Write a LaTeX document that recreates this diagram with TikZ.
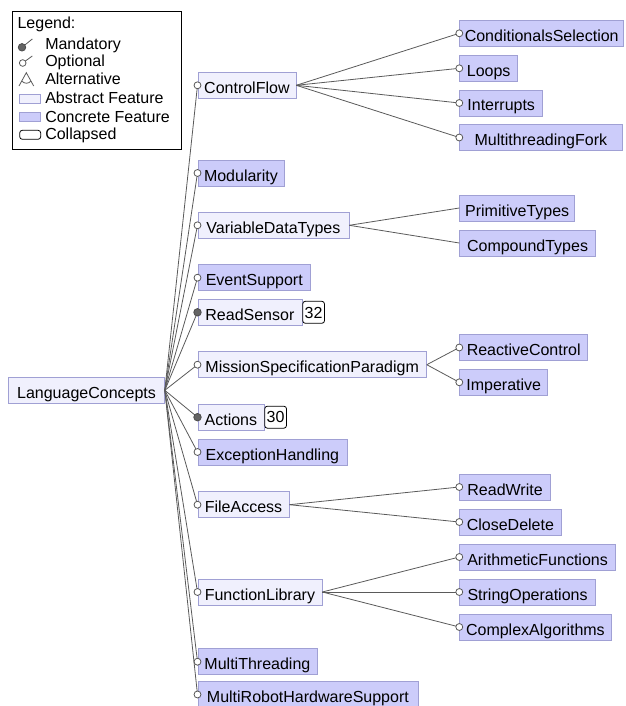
\documentclass[tikz,border=0pt]{standalone}
\usepackage{fontspec}
\setmainfont{Liberation Sans}
\usetikzlibrary{positioning}

\definecolor{absfill}{RGB}{240,240,253}
\definecolor{confill}{RGB}{204,204,250}
\definecolor{boxline}{RGB}{160,160,212}
\definecolor{linkgray}{RGB}{90,90,90}
\definecolor{mandgray}{RGB}{100,100,100}

\begin{document}
\begin{tikzpicture}[x=0.75pt,y=-0.75pt,font=\fontsize{12}{14}\selectfont,
        feat/.style={draw=boxline, line width=0.6pt, inner sep=0pt, minimum height=19.5pt,
            text height=12.5pt, text depth=0.5pt, anchor=west},
        abstr/.style={feat, fill=absfill},
        concr/.style={feat, fill=confill},
        badge/.style={draw=black, fill=white, line width=0.6pt, rounded corners=2pt,
            inner xsep=1.5pt, inner ysep=0pt, minimum height=16.5pt, text height=8.6pt, text depth=0pt},
        link/.style={draw=linkgray, line width=0.6pt},
        optdot/.style={draw=linkgray, fill=white, line width=0.6pt},
        manddot/.style={draw=black!70, fill=mandgray, line width=0.6pt}]
        \useasboundingbox (0,0) rectangle (625,706);

        % Feature macro:
        % #1 = node name
        % #2 = x of left edge
        % #3 = y of centre
        % #4 = box width
        % #5 = style (abstr/concr)
        % #6 = label
        \newcommand{\feature}[6]{%
            \node[#5, minimum width=#4*0.75pt] (#1) at (#2,#3) {#6};
        }

        % legend
        \draw[black, line width=0.6pt] (12.3,11) rectangle (181.7,149);
        \node[anchor=base west, inner sep=0pt] (legtitle) at (17.3,28.3) {Legend:};
        \foreach \n/\y/\t in {lgmand/50/Mandatory, lgopt/67/Optional, lgalt/85/Alternative,
                lgabs/104/Abstract Feature, lgcon/122.3/Concrete Feature, lgcol/140/Collapsed}{
            \node[anchor=base west, inner sep=0pt] (\n) at (45,\y) {\t};
        }
        \draw[link] (22,47.3) -- (32.3,39);
        \draw[manddot] (22,47.3) circle[radius=2.8pt];
        \draw[link] (22.7,63) -- (32.3,56);
        \draw[optdot] (22.7,63) circle[radius=2.5pt];
        \draw[link] (19,86) -- (26.3,72.7) -- (33.7,86);
        \draw[link] (21.7,81) .. controls (24.5,84) and (28.5,84) .. (31,81);
        \draw[draw=boxline, fill=absfill, line width=0.6pt] (19,94.3) rectangle (40.7,103.3);
        \draw[draw=boxline, fill=confill, line width=0.6pt] (19,112.3) rectangle (40.7,121.7);
        \draw[black, fill=white, line width=0.6pt, rounded corners=2pt] (19.7,130.3) rectangle (40.7,139.3);

        % root
        \feature{lc}{8.3}{390.3}{155.7}{abstr}{LanguageConcepts}

        % first level
        \foreach \n/\y/\w/\s/\t in {cf/85.3/98/abstr/ControlFlow, mod/173/86/concr/Modularity,
                vdt/225.3/151/abstr/VariableDataTypes, ev/277.7/112.7/concr/EventSupport,
                rs/312.3/104/abstr/ReadSensor, msp/364.7/228.5/abstr/MissionSpecificationParadigm,
                act/417.2/66/abstr/Actions, exc/452/149/concr/ExceptionHandling,
                fa/504.7/91.2/abstr/FileAccess, fl/592/124/abstr/FunctionLibrary,
                mt/661.7/119/concr/MultiThreading, mrh/694.5/220/concr/MultiRobotHardwareSupport}{
            \feature{\n}{197.5}{\y}{\w}{\s}{\t}
        }

        % second level
        \foreach \n/\y/\w/\t in {cs/33.3/164/ConditionalsSelection, lp/68.3/58/Loops,
                intr/103/83/Interrupts, mtf/137.5/162.4/MultithreadingFork,
                pt/208/115/PrimitiveTypes, ct/243/135.7/CompoundTypes,
                rc/347.5/128/ReactiveControl, imp/382.3/88/Imperative,
                rw/487/90.7/ReadWrite, cd/522/101.4/CloseDelete,
                af/557/155.7/ArithmeticFunctions, so/592/135.7/StringOperations,
                ca/627/151.4/ComplexAlgorithms}{
            \feature{\n}{459.3}{\y}{\w}{concr}{\t}
        }

        % collapsed counts
        \node[badge, right=0pt of rs] (rsn) {32};
        \node[badge, right=0pt of act] (actn) {30};

        % connectors
        \foreach \c in {cf,mod,vdt,ev,rs,msp,act,exc,fa,fl,mt,mrh}{
            \draw[link] (lc.east) -- (\c.west);
        }
        \foreach \p/\c in {cf/cs,cf/lp,cf/intr,cf/mtf,vdt/pt,vdt/ct,msp/rc,msp/imp,
                fa/rw,fa/cd,fl/af,fl/so,fl/ca}{
            \draw[link] (\p.east) -- (\c.west);
        }

        % optional / mandatory ends
        \foreach \c in {cf,mod,vdt,ev,msp,exc,fa,fl,mt,mrh,cs,lp,intr,mtf,rc,imp,rw,cd,af,so,ca}{
            \draw[optdot] (\c.west) circle[radius=2.6pt];
        }
        \foreach \c in {rs,act}{
            \draw[manddot] (\c.west) circle[radius=2.8pt];
        }
    \end{tikzpicture}
\end{document}
